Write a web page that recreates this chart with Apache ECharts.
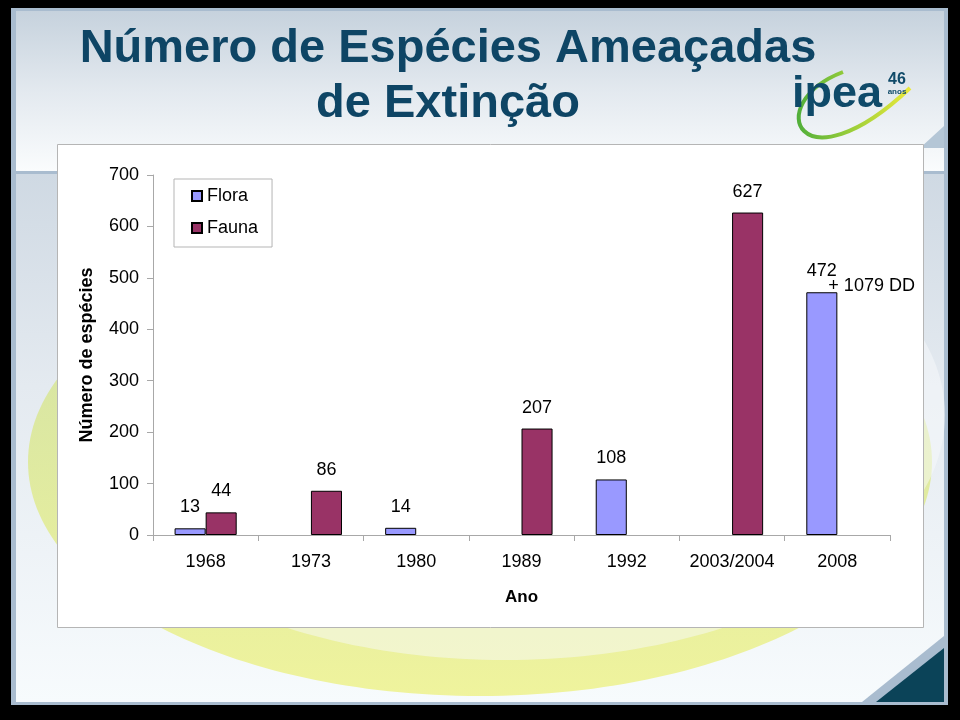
<!DOCTYPE html>
<html>
<head>
<meta charset="utf-8">
<script src="https://cdn.jsdelivr.net/npm/echarts@6/dist/echarts.min.js"></script>
<style>
html,body{margin:0;padding:0;background:#000;}
#c{width:960px;height:720px;}
</style>
</head>
<body>
<div id="c"></div>
<script>
const categories = ['1968', '1973', '1980', '1989', '1992', '2003/2004', '2008'];
const flora = [13, null, 14, null, 108, null, 472];
const fauna = [44, 86, null, 207, null, 627, null];
const yTicks = { min: 0, max: 700, interval: 100 };
const noteCategory = '2008';
const noteValue = 472;
const noteText = '+ 1079 DD';

const chart = echarts.init(document.getElementById('c'), null, { renderer: 'canvas' });
const F = 'Liberation Sans, Arial, sans-serif';

const option = {
  backgroundColor: '#000',
  animation: false,
  graphic: [
    // slide frame
    { type: 'rect', z: -10, shape: { x: 11, y: 8, width: 937, height: 697 },
      style: { fill: '#a9bccf' } },
    // header band
    { type: 'rect', z: -9, shape: { x: 16, y: 11, width: 928, height: 160 },
      style: { fill: new echarts.graphic.LinearGradient(0, 0, 0, 1, [
        { offset: 0, color: '#c6d2dd' }, { offset: 0.5, color: '#e3e9ef' },
        { offset: 1, color: '#fafcfd' }]) } },
    // body
    { type: 'rect', z: -9, shape: { x: 16, y: 174, width: 928, height: 528 },
      style: { fill: new echarts.graphic.LinearGradient(0, 0, 0, 1, [
        { offset: 0, color: '#cfd9e3' }, { offset: 0.4, color: '#e4eaf0' },
        { offset: 1, color: '#f7fbfd' }]) } },
    // green/yellow swoosh
    { type: 'ellipse', z: -8, shape: { cx: 480, cy: 462, rx: 452, ry: 234 },
      style: { fill: new echarts.graphic.LinearGradient(0, 0, 0, 1, [
        { offset: 0, color: 'rgba(200,222,120,0.6)' }, { offset: 1, color: 'rgba(238,242,140,0.85)' }]) } },
    { type: 'ellipse', z: -7, shape: { cx: 505, cy: 415, rx: 440, ry: 245 },
      style: { fill: 'rgba(247,250,252,0.5)' } },
    // bottom-right corner
    { type: 'polygon', z: -6, shape: { points: [[862, 702], [944, 702], [944, 636]] },
      style: { fill: '#a9bccf' } },
    { type: 'polygon', z: -5, shape: { points: [[876, 702], [944, 702], [944, 648]] },
      style: { fill: '#0b4358' } },
    // top-right corner
    { type: 'polygon', z: -6, shape: { points: [[944, 126], [944, 148], [920, 148]] },
      style: { fill: '#b4c6d6' } },
    // chart panel
    { type: 'rect', z: -4, shape: { x: 57.5, y: 144.5, width: 866, height: 483 },
      style: { fill: '#ffffff', stroke: '#b5b5b5', lineWidth: 1 } },
    // title
    { type: 'text', z: 10, x: 448, y: 22,
      style: { text: 'Número de Espécies Ameaçadas\nde Extinção', fill: '#0e4565', align: 'center',
        verticalAlign: 'top',
        font: 'bold 47px "Liberation Sans", Arial, sans-serif', lineHeight: 55 } },
    // logo swoosh
    { type: 'bezierCurve', z: 9, shape: { x1: 843, y1: 72, cpx1: 760, cpy1: 104, cpx2: 800, cpy2: 192, x2: 910, y2: 88 },
      style: { stroke: new echarts.graphic.LinearGradient(0, 0, 1, 0, [
        { offset: 0, color: '#4fae3a' }, { offset: 0.5, color: '#9fd03a' }, { offset: 1, color: '#eeea3a' }]),
        lineWidth: 4, fill: null } },
    { type: 'text', z: 11, x: 792, y: 72,
      style: { text: 'ipea', fill: '#0f4a69', verticalAlign: 'top',
        font: 'bold 45px "Liberation Sans", Arial, sans-serif' } },
    { type: 'text', z: 11, x: 897, y: 72,
      style: { text: '46', fill: '#0f4a69', align: 'center', verticalAlign: 'top',
        font: 'bold 16px "Liberation Sans", sans-serif' } },
    { type: 'text', z: 11, x: 897, y: 88,
      style: { text: 'anos', fill: '#0f4a69', align: 'center', verticalAlign: 'top',
        font: 'bold 8px "Liberation Sans", sans-serif' } }
  ],
  legend: {
    orient: 'vertical', left: 174, top: 179,
    data: ['Flora', 'Fauna'],
    borderColor: '#b5b5b5', borderWidth: 1, backgroundColor: '#fff',
    padding: [8, 14, 10, 17], itemGap: 14, itemWidth: 10, itemHeight: 10,
    icon: 'rect',
    textStyle: { fontFamily: F, fontSize: 18, color: '#000' }
  },
  grid: { left: 153, right: 70, top: 175, bottom: 185 },
  xAxis: {
    type: 'category', data: categories,
    axisLine: { lineStyle: { color: '#a8a8a8' } },
    axisTick: { show: true, interval: 0, length: 6, lineStyle: { color: '#a8a8a8' } },
    axisLabel: { interval: 0, fontFamily: F, fontSize: 18, color: '#000', margin: 18 },
    name: 'Ano', nameLocation: 'middle', nameGap: 54,
    nameTextStyle: { fontFamily: F, fontSize: 17, fontWeight: 'bold', color: '#000' }
  },
  yAxis: {
    type: 'value', min: yTicks.min, max: yTicks.max, interval: yTicks.interval,
    axisLine: { show: true, lineStyle: { color: '#a8a8a8' } },
    axisTick: { show: true, length: 6, lineStyle: { color: '#a8a8a8' } },
    splitLine: { show: false },
    axisLabel: { fontFamily: F, fontSize: 18, color: '#000', margin: 14 },
    name: 'Número de espécies', nameLocation: 'middle', nameGap: 57, nameRotate: 90,
    nameTextStyle: { fontFamily: F, fontSize: 18, fontWeight: 'bold', color: '#000' }
  },
  series: [
    { name: 'Flora', type: 'bar', data: flora, barGap: '0%', barCategoryGap: '41%',
      itemStyle: { color: '#9999ff', borderColor: '#000', borderWidth: 1 },
      label: { show: true, position: 'top', distance: 12, fontFamily: F, fontSize: 18, color: '#000' } },
    { name: 'Fauna', type: 'bar', data: fauna, barGap: '0%', barCategoryGap: '41%',
      itemStyle: { color: '#993366', borderColor: '#000', borderWidth: 1 },
      label: { show: true, position: 'top', distance: 12, fontFamily: F, fontSize: 18, color: '#000' } },
    { name: 'note', type: 'scatter', symbolSize: 0, silent: true,
      itemStyle: { opacity: 1 },
      data: [[noteCategory, noteValue]],
      label: { show: true, position: 'right', distance: 0, offset: [-9, -6], formatter: noteText,
        fontFamily: F, fontSize: 18, color: '#000', opacity: 1 } }
  ]
};
chart.setOption(option);
</script>
</body>
</html>
